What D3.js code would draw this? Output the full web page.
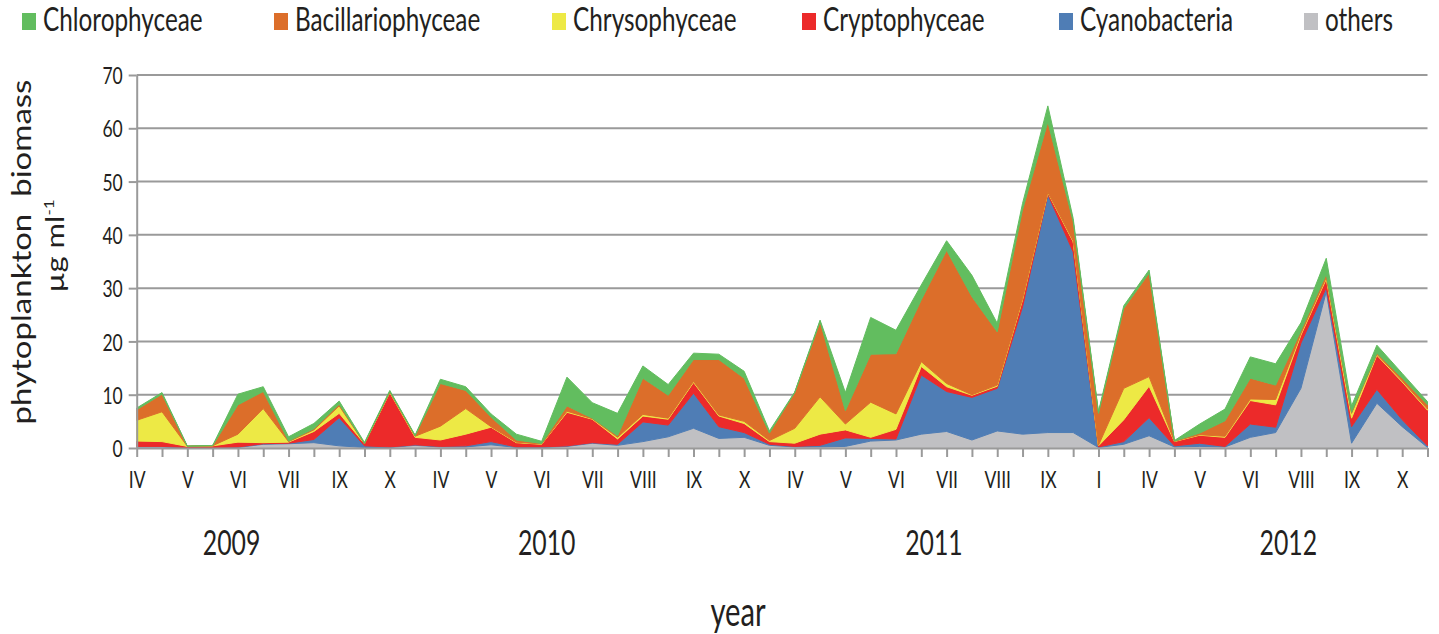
<!DOCTYPE html>
<html><head><meta charset="utf-8">
<script src="https://cdn.jsdelivr.net/npm/d3@7"></script>
<style>body{margin:0;background:#fff;} text{font-family:Lato, "Open Sans", sans-serif; fill:#231f20;}</style>
</head><body><svg id="c" width="1439" height="634"></svg>
<script>
// ---- data ----
const seriesKeys = ["others","Cyanobacteria","Cryptophyceae","Chrysophyceae","Bacillariophyceae","Chlorophyceae"];
const legendOrder = ["Chlorophyceae","Bacillariophyceae","Chrysophyceae","Cryptophyceae","Cyanobacteria","others"];
const seriesColors = ["#c0c0c3","#4f7db5","#ec2a2a","#ede945","#dc6e2a","#62bd5f"];
const sampleLabels = ["IV","","V","","VI","","VII","","IX","","X","","IV","","V","","VI","","VII","","VIII","","IX","","X","",
  "IV","","V","","VI","","VII","","VIII","","IX","","I","","IV","","V","","VI","","VIII","","IX","","X",""];
const others = [0.2,0.2,0.05,0.05,0.1,0.7,0.8,1.0,0.4,0.1,0.1,0.5,0.2,0.2,0.6,0.1,0.1,0.3,0.9,0.5,1.2,2.1,3.7,1.8,2.0,0.5,
  0.2,0.2,0.3,1.3,1.5,2.6,3.1,1.5,3.2,2.6,2.9,2.9,0.1,0.7,2.3,0.2,0.3,0.2,2.0,2.9,11.2,29.3,0.9,8.4,4.0,0.1];
const cyanobacteria = [0.1,0.1,0.05,0.05,0.1,0.1,0.1,0.6,5.3,0.3,0.1,0.1,0.1,0.2,0.6,0.1,0.1,0.1,0.1,0.2,3.7,2.2,6.6,2.2,0.9,0.2,
  0.1,0.3,1.6,0.5,0.2,11.1,7.5,8.0,8.0,23.9,44.7,33.9,0.1,0.5,3.4,0.2,0.6,0.1,2.5,1.0,8.5,0.8,3.1,2.6,1.3,0.3];
const cryptophyceae = [1.0,0.9,0.2,0.3,0.9,0.2,0.2,1.5,0.8,0.4,10.2,1.4,1.2,2.2,2.7,0.8,0.5,6.3,4.4,1.0,1.1,1.1,2.0,2.0,1.7,0.5,
  0.6,2.1,1.5,0.2,1.8,1.6,0.9,0.4,0.4,1.3,0.3,1.9,0.2,4.1,5.9,0.8,1.5,1.7,4.4,4.2,1.5,1.6,1.6,6.4,7.1,6.7];
const chrysophyceae = [3.9,5.6,0.02,0.02,1.5,6.4,0.1,0.3,1.4,0.02,0.1,0.2,2.6,4.8,0.1,0.1,0.05,0.2,0.1,0.3,0.3,0.2,0.2,0.2,0.4,0.2,
  2.8,7.0,1.1,6.6,2.9,0.9,0.6,0.1,0.2,0.2,0.1,0.2,0.1,5.9,1.8,0.05,0.1,0.2,0.3,1.0,0.3,0.3,0.9,0.2,0.2,0.2];
const bacillariophyceae = [2.0,3.3,0.02,0.02,5.5,3.2,0.1,0.2,0.3,0.02,0.1,0.1,8.0,3.4,1.8,0.4,0.1,1.0,0.1,0.3,6.8,4.3,4.1,10.4,8.1,1.4,
  6.7,14.1,2.5,9.0,11.3,11.6,25.0,18.4,10.0,16.7,13.2,3.6,6.0,15.0,19.4,0.05,0.3,2.9,3.9,2.7,0.5,0.6,0.2,0.2,0.5,0.8];
const chlorophyceae = [0.3,0.3,0.02,0.02,2.0,0.9,0.8,1.0,0.6,0.2,0.2,0.1,0.8,0.7,0.6,1.1,0.4,5.4,2.9,4.2,2.3,2.0,1.2,1.0,1.3,0.4,
  0.1,0.3,3.4,6.9,4.4,2.8,1.8,4.0,1.6,1.2,3.0,0.6,0.3,0.5,0.6,0.1,1.7,2.2,4.0,4.0,1.5,3.0,1.2,1.5,0.9,0.6];
const yTicks = [0,10,20,30,40,50,60,70];
const years = ["2009","2010","2011","2012"];
const yearCenters = [3.75,16.2,31.5,45.5];

// ---- build ----
const seriesValues = [others,cyanobacteria,cryptophyceae,chrysophyceae,bacillariophyceae,chlorophyceae];
const rows = sampleLabels.map((lab,i)=>{
  const r = {i};
  seriesKeys.forEach((k,j)=>r[k]=seriesValues[j][i]);
  return r;
});
const color = d3.scaleOrdinal().domain(seriesKeys).range(seriesColors);
const SX = 0.73;
const svg = d3.select("#c");
const L = 136.7, R = 1427.5, T = 75, B = 448;
const x = d3.scalePoint().domain(d3.range(sampleLabels.length)).range([L,R]);
const y = d3.scaleLinear().domain([0,70]).range([B,T]);
const gridColor = "#9a9a9a";

// gridlines
svg.append("g").selectAll("line").data(yTicks.filter(d=>d>0)).join("line")
  .attr("x1",L).attr("x2",R).attr("y1",d=>y(d)).attr("y2",d=>y(d))
  .attr("stroke",gridColor).attr("stroke-width",2);

// areas
const stack = d3.stack().keys(seriesKeys)(rows);
const area = d3.area().x(d=>x(d.data.i)).y0(d=>y(d[0])).y1(d=>y(d[1]));
svg.append("g").selectAll("path").data(stack).join("path")
  .attr("d",area).attr("fill",d=>color(d.key))
  .attr("stroke",d=>color(d.key)).attr("stroke-width",1).attr("stroke-linejoin","round");

// x axis
const xa = svg.append("g").attr("transform",`translate(0,${B})`)
  .call(d3.axisBottom(x).tickSize(9).tickSizeOuter(0).tickFormat(i=>sampleLabels[i]));
xa.select(".domain").attr("stroke",gridColor).attr("stroke-width",2);
xa.selectAll(".tick line").attr("stroke",gridColor).attr("stroke-width",2);
xa.selectAll(".tick text").attr("y",40).attr("dy",0).attr("font-size",24)
  .attr("transform",`scale(${SX},1)`).style("font-family","Lato").attr("fill","#231f20");

// y axis
const ya = svg.append("g").attr("transform",`translate(${L},0)`)
  .call(d3.axisLeft(y).tickValues(yTicks).tickSize(8).tickSizeOuter(0).tickPadding(4));
ya.select(".domain").attr("stroke",gridColor).attr("stroke-width",2);
ya.selectAll(".tick line").attr("stroke",gridColor).attr("stroke-width",2);
ya.selectAll(".tick text").attr("font-size",24).attr("dy","0.36em")
  .attr("transform",`scale(${SX},1)`).attr("x",-14/SX).style("font-family","Lato").attr("fill","#231f20");

// year labels
svg.append("g").selectAll("text").data(years).join("text")
  .attr("transform",(d,i)=>`translate(${x(0)+(x(1)-x(0))*yearCenters[i]},555) scale(${SX},1)`)
  .attr("text-anchor","middle").attr("font-size",34).text(d=>d);

// x title
svg.append("text").attr("transform",`translate(738,626) scale(${SX},1)`)
  .attr("text-anchor","middle").attr("font-size",40).text("year");

// y title
svg.append("text").attr("transform",`translate(31,252) rotate(-90) scale(1,0.8)`)
  .attr("text-anchor","middle").attr("font-size",33).attr("xml:space","preserve").text("phytoplankton  biomass");
const yt2 = svg.append("text").attr("transform",`translate(64,246) rotate(-90) scale(1,0.8)`)
  .attr("text-anchor","middle").attr("font-size",31);
yt2.append("tspan").text("\u00b5g ml");
yt2.append("tspan").attr("dy",-13).attr("font-size",17).text("-1");

// legend
const legendX = [22,274,552,802,1059,1304];
const lg = svg.append("g").selectAll("g").data(legendOrder).join("g")
  .attr("transform",(d,i)=>`translate(${legendX[i]},0)`);
lg.append("rect").attr("x",0).attr("y",13).attr("width",14).attr("height",17).attr("fill",d=>color(d));
lg.append("text").attr("transform",`translate(21,31) scale(0.76,1)`).attr("font-size",32).text(d=>d);
</script></body></html>
